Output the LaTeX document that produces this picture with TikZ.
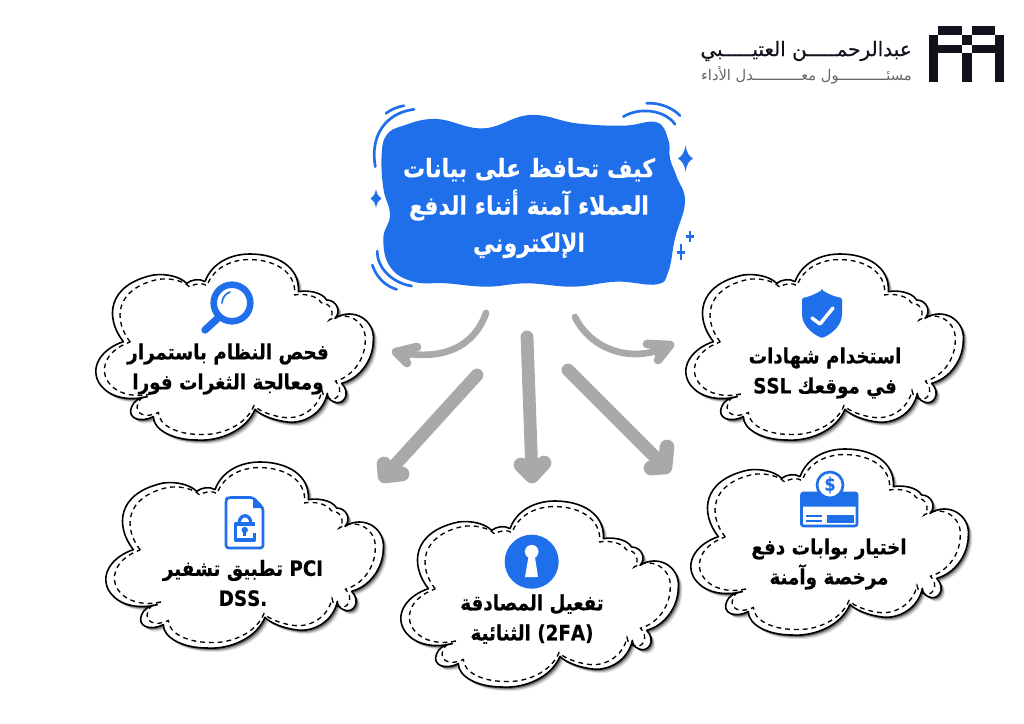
\documentclass[tikz,border=0pt]{standalone}
\usepackage{fontspec}
\TeXXeTstate=1
\newfontfamily\arb[Script=Arabic,BoldFont=DejaVu Sans Bold,BoldFeatures={FakeStretch=0.87,FakeBold=0.25}]{DejaVu Sans}
\newfontfamily\arbmed[Script=Arabic,FakeBold=0.5]{DejaVu Sans}
\newcommand{\rl}[1]{\beginR #1\endR}
\newcommand{\ltr}[1]{\beginL #1\endL{}}
\definecolor{mainblue}{HTML}{1F6FEB}
\definecolor{arrowgray}{HTML}{A9A9A9}
\definecolor{logoink}{HTML}{12121C}
\tikzset{
  px/.style={x=.75pt,y=-.75pt},
  zoomunits/.style={x=.25pt,y=-.25pt},
  bigarrow/.style={draw=arrowgray,line width=9.6pt,line cap=round,line join=round},
  bighead/.style={draw=arrowgray,fill=arrowgray,line width=11pt,line cap=round,line join=round},
  curvearrow/.style={draw=arrowgray,line width=5pt,line cap=round},
  curvehead/.style={draw=arrowgray,fill=arrowgray,line width=6.5pt,line cap=round,line join=round},
  cloudtext/.style={font=\arb\bfseries\fontsize{15.8}{22.5}\selectfont,align=center,text=black,inner sep=0pt},
  titletext/.style={font=\arb\bfseries\fontsize{19}{28}\selectfont,align=center,text=white,inner sep=0pt},
  swoosh/.style={draw=mainblue,line width=2pt,line cap=round},
  iconline/.style={draw=mainblue,line width=2pt,line join=round},
  logobox/.style={fill=logoink,draw=none}
}
\def\cloudshape{(100,275) .. controls (45,205) and (50,105) .. (190,75)
 .. controls (230,70) and (270,80) .. (290,100)
 .. controls (305,88) and (330,85) .. (345,95)
 .. controls (365,40) and (420,12) .. (480,12)
 .. controls (560,12) and (630,50) .. (625,125)
 .. controls (650,120) and (695,125) .. (710,150)
 .. controls (740,150) and (755,185) .. (735,205)
 .. controls (790,170) and (855,210) .. (850,270)
 .. controls (850,330) and (810,385) .. (755,400)
 .. controls (785,430) and (760,470) .. (730,455)
 .. controls (718,450) and (712,440) .. (712,430)
 .. controls (700,490) and (640,525) .. (585,515)
 .. controls (550,510) and (510,495) .. (495,478)
 .. controls (470,540) and (390,575) .. (320,570)
 .. controls (250,570) and (190,540) .. (190,500)
 .. controls (150,520) and (110,505) .. (125,470)
 .. controls (130,455) and (150,440) .. (172,440)
 .. controls (110,455) and (50,440) .. (25,395)
 .. controls (0,345) and (40,295) .. (100,275) -- cycle}
\newcommand{\cloudat}[2]{%
 \begin{scope}[shift={(#1,#2)},zoomunits]
  \begin{scope}[xshift=3pt,yshift=-3pt]\fill[black,opacity=.10] \cloudshape;\end{scope}
  \begin{scope}[xshift=2.2pt,yshift=-2.2pt]\fill[black,opacity=.2] \cloudshape;\end{scope}
  \begin{scope}[xshift=1.3pt,yshift=-1.3pt]\fill[black,opacity=.4] \cloudshape;\end{scope}
  \draw[black,fill=white,line width=1.2pt,line join=round] \cloudshape;
  \begin{scope}[shift={(26.7,17.4)},x=.235pt,y=-.235pt]
   \draw[black,line width=1pt,dash pattern=on 3.6pt off 3pt] \cloudshape;
  \end{scope}
 \end{scope}}
\newcommand{\sparkle}[4]{% cx cy rx ry
 \fill[mainblue] (#1,#2-#4) .. controls (#1+.2*#3,#2-.35*#4) and (#1+.5*#3,#2-.2*#4) .. (#1+#3,#2)
  .. controls (#1+.5*#3,#2+.2*#4) and (#1+.2*#3,#2+.35*#4) .. (#1,#2+#4)
  .. controls (#1-.2*#3,#2+.35*#4) and (#1-.5*#3,#2+.2*#4) .. (#1-#3,#2)
  .. controls (#1-.5*#3,#2-.2*#4) and (#1-.2*#3,#2-.35*#4) .. (#1,#2-#4) -- cycle;}
\begin{document}
\begin{tikzpicture}[px]
\useasboundingbox (0,0) rectangle (1024,724);
\fill[white] (0,0) rectangle (1024,724);

% logo mark
\fill[logobox] (938.3,26) rectangle (961.7,35);
\fill[logobox] (971.7,26) rectangle (995,35);
\fill[logobox] (929.3,35) rectangle (938.3,82.3);
\fill[logobox] (995,35) rectangle (1004.3,82.3);
\fill[logobox] (961.7,35) rectangle (971.7,45);
\fill[logobox] (938.3,45) rectangle (961.7,53.3);
\fill[logobox] (971.7,45) rectangle (995,53.3);
\fill[logobox] (961.7,53.3) rectangle (971.7,82.3);
\node[anchor=east,inner sep=0pt,text=logoink,font=\arbmed\fontsize{15}{17}\selectfont] (logoname) at (912,51)
 {\rl{عبدالرحمـــــن العتيـــــبي}};
\node[anchor=east,inner sep=0pt,text=black!60,font=\arb\fontsize{11}{13}\selectfont] (logorole) at (912,75)
 {\rl{مسئـــــــــــول معـــــــــــدل الأداء}};

% central blob
\begin{scope}[shift={(360,95)},zoomunits]
 \fill[mainblue] plot[smooth cycle,tension=.7] coordinates {(130,92) (230,72) (370,100) (510,60) (650,85) (790,92) (890,82) (925,135) (930,190) (950,245) (975,320) (945,430) (925,530) (890,568) (770,560) (640,575) (500,565) (380,575) (260,565) (160,560) (90,515) (70,430) (90,360) (70,280) (65,180) (80,120)};
 \draw[swoosh] (78,55) .. controls (95,42) and (115,35) .. (132,32);
 \draw[swoosh] (46,215) .. controls (30,130) and (70,55) .. (162,43);
 \draw[swoosh] (860,25) .. controls (900,22) and (940,40) .. (960,62);
 \draw[swoosh] (790,65) .. controls (840,35) and (915,45) .. (945,88);
 \draw[swoosh] (52,468) .. controls (50,520) and (100,565) .. (155,573);
 \draw[swoosh] (37,510) .. controls (50,550) and (80,575) .. (110,583);
 \draw[mainblue,line width=2pt] (990,408) -- (990,442) (978,425) -- (1002,425);
 \draw[mainblue,line width=2pt] (963,448) -- (963,496) (950,472) -- (976,472);
\end{scope}
\sparkle{685.5}{158.5}{7.5}{13}
\sparkle{376}{198.5}{5.5}{9.5}
\node[titletext] (title) at (529,208) {\rl{كيف تحافظ على بيانات}\\\rl{العملاء آمنة أثناء الدفع}\\\rl{الإلكتروني}};

% clouds
\cloudat{90}{250}
\cloudat{680}{250}
\cloudat{100}{458}
\cloudat{395}{497}
\cloudat{685}{445}

% magnifier icon
\draw[mainblue,line width=4.9pt] (232,303) circle (18.3);
\draw[mainblue,line width=1.3pt,line cap=round] (222,303) .. controls (222,298) and (226,293) .. (230,292);
\draw[mainblue,line width=5.5pt,line cap=round] (217,319) -- (205,330);

% shield icon
\fill[mainblue,rounded corners=1pt] (822,290) .. controls (830,295) and (836,297) .. (842,298) -- (842,313) .. controls (842,325) and (832,334) .. (822,338) .. controls (812,334) and (802,325) .. (802,313) -- (802,298) .. controls (808,297) and (814,295) .. (822,290) -- cycle;
\draw[white,line width=2.6pt,line cap=round,line join=round] (812,318) -- (820,324) -- (833,308);

% document lock icon
\draw[iconline,rounded corners=2pt] (253,497.5) -- (228,497.5) -- (226,499.5) -- (226,548) -- (263,548) -- (263,508) -- cycle;
\fill[mainblue] (253,497.5) -- (263,508) -- (253,508) -- cycle;
\draw[iconline,line width=2.4pt] (254.5,524) -- (235.5,524) -- (235.5,540) -- (254.5,540) -- (254.5,533);
\draw[iconline,line width=2.4pt] (239,524) .. controls (239,513) and (251,513) .. (251,524);
\fill[mainblue] (244.7,530) circle (3.2);
\fill[mainblue] (243.3,530) rectangle (246.2,536);

% keyhole icon
\fill[mainblue] (531.7,561.7) circle (27);
\fill[white] (531.7,551.7) circle (6.8);
\fill[white] (529,554) -- (534.5,554) -- (538,577) -- (525,577) -- cycle;

% card icon
\draw[iconline,rounded corners=1.5pt] (801.5,493) rectangle (857,526);
\fill[mainblue,rounded corners=1pt] (801,492) rectangle (858,506.5);
\fill[mainblue] (827,514.5) rectangle (853.5,522.5);
\draw[mainblue,line width=1.4pt] (806,515.7) -- (822,515.7) (806,521) -- (822,521);
\draw[iconline,fill=white] (830,485) circle (13);
\node[inner sep=0pt,text=mainblue,font=\arb\bfseries\fontsize{14}{15}\selectfont] (dollar) at (830,485) {\$};

% cloud labels
\node[cloudtext] (scan) at (228,369) {\rl{فحص النظام باستمرار}\\\rl{ومعالجة الثغرات فورا}};
\node[cloudtext] (ssl) at (825,373) {\rl{استخدام شهادات}\\\rl{في موقعك SSL}};
\node[cloudtext] (pci) at (243,583) {\rl{\ltr{PCI} تطبيق تشفير}\\\ltr{DSS.}};
\node[cloudtext] (tfa) at (532,619) {\rl{تفعيل المصادقة}\\\rl{\ltr{(2FA)} الثنائية}};
\node[cloudtext] (gate) at (829,564) {\rl{اختيار بوابات دفع}\\\rl{مرخصة وآمنة}};

% connectors
\coordinate (a1s) at (486,313);
\coordinate (a1e) at (396,352);
\coordinate (a1u) at (417,347);
\coordinate (a1d) at (407,363);
\draw[curvearrow] (a1s) .. controls (475,345) and (445,362) .. (397,352);
\draw[curvehead] (a1u) -- (a1e) -- (a1d);

\coordinate (a2s) at (575,317);
\coordinate (a2e) at (670,345);
\coordinate (a2u) at (647,344);
\coordinate (a2d) at (658,360);
\draw[curvearrow] (a2s) .. controls (590,348) and (630,365) .. (669,346);
\draw[curvehead] (a2u) -- (a2e) -- (a2d);

\coordinate (a3s) at (477,375);
\coordinate (a3e) at (385,476);
\coordinate (a3u) at (384,464);
\coordinate (a3d) at (402,474);
\draw[bigarrow] (a3s) -- (a3e);
\draw[bighead] (a3u) -- (a3e) -- (a3d);

\coordinate (a4s) at (527,337);
\coordinate (a4e) at (532,476);
\coordinate (a4u) at (521,465);
\coordinate (a4d) at (544,463);
\draw[bigarrow] (a4s) -- (a4e);
\draw[bighead] (a4u) -- (a4e) -- (a4d);

\coordinate (a5s) at (568,370);
\coordinate (a5e) at (665,467);
\coordinate (a5u) at (667,447);
\coordinate (a5d) at (651,468);
\draw[bigarrow] (a5s) -- (a5e);
\draw[bighead] (a5u) -- (a5e) -- (a5d);
\end{tikzpicture}
\end{document}
